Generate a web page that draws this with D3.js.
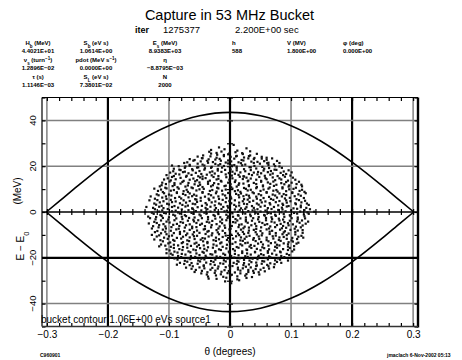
<!DOCTYPE html>
<html>
<head>
<meta charset="utf-8">
<script src="https://cdn.jsdelivr.net/npm/d3@7"></script>
<style>
body { margin: 0; background: #fff; }
svg { display: block; font-family: "Liberation Sans", Arial, sans-serif; }
</style>
</head>
<body>
<div id="chart"></div>
<script>
// grid / tick values
const thetaTicks = [-0.3, -0.2, -0.1, 0, 0.1, 0.2, 0.3];
const heavyTheta = [-0.2, 0, 0.2];
const energyTicks = [-40, -20, 0, 20, 40];
const heavyEnergy = [-20];

// bucket separatrix
const contourTheta = [-0.301, -0.28, -0.25, -0.2, -0.15, -0.1, -0.05, 0, 0.05, 0.1, 0.15, 0.2, 0.25, 0.28, 0.301];
const contourUpper = [0, 4.6, 11.3, 21.8, 30.8, 37.7, 42.0, 43.5, 42.0, 37.7, 30.8, 21.8, 11.3, 4.6, 0];
const contourLower = [0, -4.6, -11.3, -21.8, -30.8, -37.7, -42.0, -43.5, -42.0, -37.7, -30.8, -21.8, -11.3, -4.6, 0];

// header text
const paramLabels = [
    ["H_b (MeV)", "S_b (eV s)", "E_s (MeV)"],
    ["ν_s (turn^{−1})", "pdot (MeV s^{−1})", "η"],
    ["τ (s)", "S_L (eV s)", "N"]
];
const paramValues = [
    ["4.4021E+01", "1.0614E+00", "8.9383E+03"],
    ["1.2896E−02", "0.0000E+00", "−8.8795E−03"],
    ["1.1146E−03", "7.3801E−02", "2000"]
];
const rfLabels = ["h", "V (MV)", "φ (deg)"];
const rfValues = ["588", "1.800E+00", "0.000E+00"];

// macro-particles: [theta (deg), E - E0 (MeV)]
const particles = [
[.006,29.3],
[-.018,28.2],[.027,27.8],
[-.009,27.4],[.012,26.8],[-.031,27.1],
[-.034,26.3],[-.022,25.8],[-.014,26.4],[-.001,25.6],[.009,26.1],[.02,25.7],[.033,26.5],
[-.044,24.7],[-.031,25.5],[-.021,25.0],[-.01,24.9],[-.003,25.2],[.011,24.5],[.021,25.3],[.033,24.7],[.044,25.4],
[-.053,24.2],[-.046,23.5],[-.032,24.3],[-.022,23.7],[-.01,24.4],[.001,24.1],[.01,24.3],[.023,23.8],[.031,24.4],[.04,23.6],[.052,24.1],[.06,23.7],
[-.066,23.1],[-.058,22.7],[-.045,23.5],[-.035,23.0],[-.024,22.9],[-.017,23.2],[-.003,22.5],[.007,23.3],[.019,22.7],[.03,23.4],[.039,23.1],[.052,23.3],[.06,22.8],[.069,23.4],
[-.07,21.7],[-.06,22.4],[-.048,22.1],[-.037,22.3],[-.028,21.8],[-.015,22.4],[-.007,21.6],[.002,22.1],[.014,21.7],[.022,22.5],[.035,22.0],[.045,21.9],[.056,22.2],[.063,21.5],[.077,22.3],
[-.075,21.4],[-.066,20.6],[-.053,21.1],[-.045,20.7],[-.036,21.5],[-.024,21.0],[-.016,20.9],[-.003,21.2],[.007,20.5],[.018,21.3],[.025,20.7],[.039,21.4],[.049,21.1],[.061,21.3],[.072,20.8],[.081,21.4],
[-.084,20.0],[-.073,19.9],[-.066,20.2],[-.052,19.5],[-.042,20.3],[-.03,19.7],[-.019,20.4],[-.01,20.1],[.003,20.3],[.011,19.8],[.02,20.4],[.032,19.6],[.04,20.1],[.053,19.7],[.063,20.5],[.074,20.0],[.081,19.9],[-.095,20.3],
[-.083,18.5],[-.074,19.3],[-.062,18.7],[-.054,19.4],[-.041,19.1],[-.031,19.3],[-.02,18.8],[-.013,19.4],[.001,18.6],[.011,19.1],[.023,18.7],[.034,19.5],[.043,19.0],[.056,18.9],[.064,19.2],[.073,18.5],[.085,19.3],[-.092,18.9],
[-.093,17.8],[-.081,18.3],[-.074,17.6],[-.061,18.2],[-.05,17.9],[-.042,18.5],[-.029,17.7],[-.02,18.1],[-.008,18.4],[.004,17.6],[.011,18.2],[.025,17.8],[.034,18.3],[.046,17.5],[.055,18.1],[.067,17.9],[.076,18.4],[.088,17.7],[.096,18.2],
[-.098,17.2],[-.089,16.7],[-.077,17.4],[-.068,16.9],[-.056,17.1],[-.047,16.6],[-.033,17.3],[-.025,16.8],[-.014,17.5],[-.002,17.0],[.008,16.7],[.017,17.3],[.031,16.6],[.039,17.2],[.051,16.9],[.062,17.4],[.07,16.8],[.083,17.1],[.092,16.6],[.101,17.3],
[-.104,16.1],[-.092,15.7],[-.083,16.4],[-.071,15.8],[-.063,16.2],[-.052,15.6],[-.038,16.3],[-.03,16.0],[-.019,15.7],[-.007,16.4],[.003,15.9],[.014,16.2],[.022,15.6],[.036,16.1],[.045,16.4],[.057,15.8],[.066,16.3],[.078,15.7],[.087,16.1],[.099,15.9],[-.045,15.5],
[-.102,14.7],[-.095,15.3],[-.081,14.9],[-.072,15.4],[-.06,14.6],[-.049,15.1],[-.04,14.8],[-.027,15.3],[-.019,14.5],[-.006,15.2],[.004,14.7],[.016,15.4],[.027,15.0],[.034,14.6],[.048,15.3],[.058,14.8],[.07,15.1],[.081,14.7],[.09,15.4],[.103,15.0],[.023,15.5],
[-.108,14.2],[-.097,13.8],[-.089,14.3],[-.076,13.6],[-.066,14.1],[-.054,13.9],[-.045,14.4],[-.033,13.7],[-.022,14.2],[-.015,13.6],[-.001,14.1],[.009,13.8],[.021,14.4],[.03,13.7],[.043,14.1],[.051,13.6],[.06,14.3],[.074,13.9],[.084,14.2],[.095,13.7],[.107,14.1],
[-.111,12.8],[-.099,13.3],[-.091,12.6],[-.078,13.1],[-.068,12.7],[-.057,13.4],[-.05,12.9],[-.036,13.2],[-.026,12.6],[-.014,13.3],[-.003,12.8],[.008,13.1],[.015,12.5],[.029,13.4],[.039,12.7],[.051,13.2],[.062,12.9],[.071,13.3],[.084,12.6],[.092,13.1],[.101,12.8],[.113,13.2],
[-.112,11.7],[-.105,12.2],[-.091,11.8],[-.081,12.4],[-.069,11.6],[-.058,12.1],[-.049,11.9],[-.036,12.3],[-.028,11.7],[-.019,12.2],[-.007,11.5],[.001,12.1],[.014,11.8],[.022,12.4],[.031,11.7],[.043,12.2],[.054,11.6],[.066,12.3],[.076,11.9],[.089,12.1],[.097,11.6],[.109,12.2],[.117,11.9],
[-.115,11.2],[-.106,10.6],[-.094,11.3],[-.086,10.8],[-.073,11.1],[-.063,10.7],[-.052,11.4],[-.045,10.9],[-.031,11.2],[-.021,10.6],[-.009,11.3],[.002,10.8],[.011,11.1],[.023,10.5],[.031,11.3],[.044,10.9],[.054,11.2],[.065,10.7],[.072,11.4],[.086,10.8],[.096,11.1],[.108,10.6],[.118,11.2],
[-.113,9.8],[-.104,10.3],[-.092,9.6],[-.084,10.2],[-.071,9.7],[-.061,10.4],[-.05,9.9],[-.043,10.1],[-.029,9.6],[-.019,10.3],[-.007,9.8],[.004,10.2],[.013,9.5],[.026,10.1],[.034,9.7],[.043,10.4],[.055,9.8],[.063,10.2],[.076,9.6],[.086,10.3],[.097,9.9],[.104,10.1],[.118,9.7],[-.124,10.2],
[-.118,9.2],[-.11,8.7],[-.097,9.3],[-.087,8.6],[-.076,9.1],[-.069,8.8],[-.055,9.4],[-.045,8.7],[-.033,9.2],[-.022,8.9],[-.013,9.3],[0,8.6],[.008,9.1],[.017,8.8],[.029,9.4],[.037,8.6],[.05,9.2],[.06,8.7],[.071,9.3],[.078,8.9],[.092,9.1],[.102,8.6],[.114,9.2],[.122,8.8],
[-.12,7.7],[-.108,8.2],[-.1,7.6],[-.087,8.3],[-.077,7.9],[-.066,8.1],[-.059,7.6],[-.045,8.4],[-.035,7.8],[-.023,8.2],[-.012,7.7],[-.003,8.3],[.01,7.9],[.018,8.1],[.027,7.5],[.039,8.2],[.047,7.8],[.06,8.4],[.07,7.6],[.081,8.1],[.088,7.8],[.102,8.3],[.112,7.7],[.124,8.2],
[-.117,7.3],[-.105,6.8],[-.096,7.2],[-.083,6.6],[-.073,7.4],[-.062,6.9],[-.055,7.1],[-.041,6.7],[-.031,7.3],[-.019,6.8],[-.008,7.2],[.001,6.6],[.014,7.4],[.022,6.9],[.031,7.1],[.043,6.7],[.051,7.3],[.064,6.6],[.074,7.2],[.085,6.8],[.092,7.4],[.106,6.9],[.116,7.1],[-.13,6.8],
[-.123,5.8],[-.111,6.3],[-.104,5.7],[-.09,6.1],[-.08,5.9],[-.068,6.4],[-.057,5.6],[-.048,6.2],[-.035,5.8],[-.027,6.3],[-.018,5.7],[-.006,6.1],[.002,5.9],[.015,6.4],[.023,5.6],[.032,6.2],[.044,5.8],[.055,6.1],[.067,5.7],[.077,6.3],[.09,5.9],[.098,6.2],[.109,5.6],[.121,6.1],
[-.119,5.2],[-.109,4.7],[-.097,5.3],[-.089,4.6],[-.076,5.1],[-.066,4.8],[-.055,5.4],[-.048,4.9],[-.034,5.2],[-.024,4.6],[-.012,5.3],[-.001,4.8],[.008,5.1],[.021,4.7],[.029,5.4],[.038,4.9],[.05,5.2],[.058,4.6],[.071,5.3],[.081,4.8],[.092,5.1],[.099,4.7],[.113,5.2],[.123,4.9],[-.132,5.1],
[-.124,3.7],[-.115,4.2],[-.103,3.6],[-.095,4.3],[-.082,3.8],[-.072,4.1],[-.061,3.6],[-.054,4.4],[-.04,3.9],[-.03,4.2],[-.018,3.7],[-.007,4.3],[.002,3.8],[.015,4.1],[.023,3.6],[.032,4.4],[.044,3.7],[.052,4.2],[.065,3.9],[.075,4.3],[.086,3.6],[.093,4.1],[.107,3.8],[.117,4.2],[.126,3.7],
[-.121,3.2],[-.112,2.7],[-.1,3.3],[-.091,2.6],[-.078,3.1],[-.069,2.8],[-.057,3.4],[-.046,2.7],[-.038,3.2],[-.025,2.9],[-.015,3.3],[-.004,2.6],[.007,3.1],[.015,2.8],[.028,3.4],[.036,2.6],[.047,3.2],[.057,2.7],[.066,3.3],[.079,2.9],[.087,3.1],[.096,2.6],[.108,3.4],[.116,2.8],[.129,3.1],
[-.126,1.8],[-.116,2.3],[-.109,1.7],[-.095,2.2],[-.085,1.9],[-.073,2.4],[-.062,1.6],[-.053,2.1],[-.04,1.8],[-.032,2.3],[-.023,1.7],[-.011,2.2],[-.003,1.9],[.01,2.4],[.018,1.6],[.027,2.1],[.039,1.8],[.05,2.3],[.062,1.7],[.072,2.2],[.085,1.9],[.093,2.4],[.104,1.6],[.116,2.1],[.125,1.8],[-.137,2.2],
[-.123,1.2],[-.111,0.7],[-.102,1.3],[-.089,0.6],[-.079,1.1],[-.068,0.8],[-.061,1.4],[-.047,0.7],[-.037,1.2],[-.025,0.9],[-.014,1.3],[-.005,0.6],[.008,1.1],[.016,0.8],[.025,1.4],[.037,0.7],[.045,1.2],[.058,0.6],[.068,1.3],[.079,0.9],[.086,1.1],[.1,0.7],[.11,1.4],[.122,0.8],[.131,1.2],
[-.128,-0.3],[-.116,0.2],[-.108,-0.4],[-.095,0.3],[-.085,-0.2],[-.074,0.1],[-.063,-0.4],[-.056,0.4],[-.042,-0.3],[-.032,0.2],[-.02,-0.1],[-.009,0.3],[0,-0.4],[.013,0.1],[.021,-0.2],[.03,0.4],[.042,-0.3],[.05,0.2],[.063,-0.4],[.073,0.1],[.084,-0.1],[.091,0.3],[.105,-0.4],[.115,0.2],[.127,-0.2],[-.139,0.0],[.138,0.1],
[-.125,-0.8],[-.114,-1.3],[-.105,-0.6],[-.093,-1.2],[-.082,-0.7],[-.074,-1.4],[-.06,-0.8],[-.05,-1.1],[-.038,-0.6],[-.027,-1.3],[-.019,-0.9],[-.006,-1.2],[.004,-0.6],[.013,-1.4],[.025,-0.7],[.033,-1.1],[.046,-0.8],[.056,-1.3],[.067,-0.6],[.074,-1.2],[.088,-0.9],[.098,-1.4],[.11,-0.7],[.121,-1.1],[.129,-0.8],
[-.121,-2.2],[-.112,-1.7],[-.1,-2.3],[-.09,-1.6],[-.079,-2.1],[-.072,-1.8],[-.058,-2.4],[-.048,-1.6],[-.036,-2.2],[-.025,-1.7],[-.016,-2.3],[-.003,-1.9],[.005,-2.1],[.014,-1.6],[.026,-2.4],[.034,-1.8],[.047,-2.2],[.057,-1.6],[.068,-2.3],[.075,-1.7],[.089,-2.1],[.099,-1.8],[.111,-2.4],[.122,-1.9],[-.134,-2.0],
[-.131,-2.7],[-.122,-3.2],[-.11,-2.6],[-.101,-3.3],[-.088,-2.8],[-.078,-3.1],[-.067,-2.6],[-.06,-3.4],[-.046,-2.7],[-.036,-3.2],[-.024,-2.9],[-.013,-3.3],[-.004,-2.6],[.009,-3.1],[.017,-2.8],[.026,-3.4],[.038,-2.7],[.046,-3.2],[.059,-2.6],[.069,-3.1],[.08,-2.9],[.087,-3.3],[.101,-2.7],[.111,-3.2],[.123,-2.8],
[-.124,-4.3],[-.113,-3.7],[-.104,-4.2],[-.091,-3.6],[-.081,-4.4],[-.069,-3.8],[-.059,-4.1],[-.052,-3.6],[-.038,-4.3],[-.029,-3.9],[-.016,-4.2],[-.006,-3.6],[.005,-4.4],[.012,-3.7],[.026,-4.1],[.036,-3.8],[.048,-4.3],[.059,-3.6],[.068,-4.2],[.081,-3.7],[.089,-4.4],[.098,-3.8],[.11,-4.1],[.118,-3.7],[.128,-4.2],
[-.12,-4.8],[-.109,-5.3],[-.099,-4.6],[-.087,-5.2],[-.077,-4.7],[-.066,-5.4],[-.055,-4.8],[-.046,-5.1],[-.034,-4.6],[-.022,-5.3],[-.013,-4.9],[0,-5.2],[.009,-4.6],[.019,-5.4],[.029,-4.7],[.041,-5.1],[.053,-4.8],[.061,-5.3],[.073,-4.6],[.083,-5.2],[.095,-4.9],[.103,-5.4],[.114,-4.7],[.124,-5.1],[-.133,-5.0],
[-.126,-6.2],[-.116,-5.7],[-.106,-6.3],[-.093,-5.6],[-.083,-6.1],[-.072,-5.8],[-.062,-6.4],[-.049,-5.6],[-.041,-6.2],[-.03,-5.7],[-.017,-6.3],[-.009,-5.9],[.003,-6.1],[.015,-5.6],[.024,-6.4],[.035,-5.8],[.043,-6.2],[.057,-5.6],[.066,-6.3],[.077,-5.7],[.087,-6.1],[.096,-5.8],[.108,-6.4],[.119,-5.9],
[-.117,-6.7],[-.105,-7.2],[-.096,-6.6],[-.084,-7.3],[-.074,-6.8],[-.062,-7.1],[-.055,-6.6],[-.041,-7.4],[-.031,-6.7],[-.019,-7.2],[-.008,-6.9],[.001,-7.3],[.014,-6.6],[.022,-7.1],[.031,-6.8],[.043,-7.4],[.051,-6.7],[.064,-7.2],[.074,-6.6],[.085,-7.1],[.092,-6.9],[.106,-7.3],[.116,-6.7],[-.128,-7.2],
[-.119,-8.3],[-.11,-7.7],[-.097,-8.2],[-.088,-7.6],[-.075,-8.4],[-.066,-7.8],[-.054,-8.1],[-.043,-7.6],[-.035,-8.3],[-.022,-7.9],[-.012,-8.2],[-.001,-7.6],[.01,-8.4],[.018,-7.7],[.031,-8.1],[.039,-7.8],[.05,-8.3],[.06,-7.6],[.069,-8.2],[.082,-7.7],[.09,-8.4],[.099,-7.8],[.111,-8.1],[.119,-7.9],
[-.123,-8.8],[-.113,-9.3],[-.106,-8.6],[-.092,-9.2],[-.082,-8.7],[-.07,-9.4],[-.059,-8.8],[-.05,-9.1],[-.037,-8.6],[-.029,-9.3],[-.02,-8.9],[-.008,-9.2],[0,-8.6],[.013,-9.4],[.021,-8.7],[.03,-9.1],[.042,-8.8],[.053,-9.3],[.065,-8.6],[.075,-9.2],[.088,-8.9],[.096,-9.4],[.107,-8.7],[.119,-9.1],
[-.116,-10.2],[-.104,-9.7],[-.095,-10.3],[-.082,-9.6],[-.072,-10.1],[-.061,-9.8],[-.054,-10.4],[-.04,-9.6],[-.03,-10.2],[-.018,-9.7],[-.007,-10.3],[.002,-9.9],[.015,-10.1],[.023,-9.6],[.032,-10.4],[.044,-9.8],[.052,-10.2],[.065,-9.6],[.075,-10.3],[.086,-9.7],[.093,-10.1],[.107,-9.8],[.117,-10.4],[-.128,-10.0],
[-.12,-10.7],[-.108,-11.2],[-.1,-10.6],[-.087,-11.3],[-.077,-10.8],[-.066,-11.1],[-.059,-10.6],[-.045,-11.4],[-.035,-10.7],[-.023,-11.2],[-.012,-10.9],[-.003,-11.3],[.01,-10.6],[.018,-11.1],[.027,-10.8],[.039,-11.4],[.047,-10.7],[.06,-11.2],[.07,-10.6],[.081,-11.1],[.088,-10.9],[.102,-11.3],[.112,-10.8],[.12,-11.2],
[-.114,-12.3],[-.102,-11.7],[-.093,-12.2],[-.08,-11.6],[-.07,-12.4],[-.058,-11.8],[-.048,-12.1],[-.041,-11.6],[-.027,-12.3],[-.018,-11.9],[-.005,-12.2],[.005,-11.6],[.017,-12.4],[.024,-11.7],[.038,-12.1],[.048,-11.8],[.06,-12.3],[.071,-11.6],[.08,-12.2],[.093,-11.7],[.101,-12.4],[.11,-11.8],[-.124,-12.0],
[-.11,-12.8],[-.098,-13.3],[-.091,-12.6],[-.077,-13.2],[-.067,-12.7],[-.055,-13.4],[-.044,-12.8],[-.037,-13.1],[-.023,-12.6],[-.014,-13.3],[-.001,-12.9],[.009,-13.2],[.021,-12.6],[.029,-13.4],[.042,-12.7],[.051,-13.1],[.063,-12.8],[.074,-13.3],[.083,-12.6],[.096,-13.2],[.103,-12.9],[.112,-13.4],
[-.113,-14.2],[-.101,-13.7],[-.092,-14.3],[-.079,-13.6],[-.07,-14.1],[-.058,-13.8],[-.051,-14.4],[-.037,-13.6],[-.027,-14.2],[-.016,-13.7],[-.005,-14.3],[.004,-13.9],[.017,-14.1],[.025,-13.6],[.034,-14.4],[.046,-13.8],[.054,-14.2],[.067,-13.6],[.077,-14.3],[.088,-13.7],[.095,-14.1],[.109,-13.8],
[-.106,-14.7],[-.097,-15.2],[-.085,-14.6],[-.077,-15.3],[-.064,-14.8],[-.054,-15.1],[-.043,-14.6],[-.036,-15.4],[-.022,-14.7],[-.012,-15.2],[0,-14.9],[.011,-15.3],[.02,-14.6],[.032,-15.1],[.04,-14.8],[.053,-15.4],[.063,-14.7],[.074,-15.2],[.081,-14.6],[.095,-15.1],[.105,-14.9],[-.116,-15.0],
[-.104,-16.3],[-.092,-15.7],[-.083,-16.2],[-.07,-15.6],[-.06,-16.4],[-.049,-15.8],[-.042,-16.1],[-.028,-15.6],[-.018,-16.3],[-.006,-15.9],[.005,-16.2],[.014,-15.6],[.027,-16.4],[.035,-15.7],[.044,-16.1],[.056,-15.8],[.064,-16.3],[.077,-15.6],[.087,-16.2],[.098,-15.7],[.105,-16.4],
[-.099,-16.8],[-.091,-17.3],[-.078,-16.6],[-.068,-17.2],[-.056,-16.7],[-.045,-17.4],[-.038,-16.8],[-.024,-17.1],[-.015,-16.6],[-.002,-17.3],[.008,-16.9],[.02,-17.2],[.028,-16.6],[.041,-17.4],[.05,-16.7],[.062,-17.1],[.073,-16.8],[.082,-17.3],[.095,-16.6],[.102,-17.2],
[-.097,-18.2],[-.086,-17.7],[-.079,-18.3],[-.065,-17.6],[-.055,-18.1],[-.043,-17.8],[-.032,-18.4],[-.024,-17.6],[-.011,-18.2],[-.001,-17.7],[.008,-18.3],[.02,-17.9],[.028,-18.1],[.041,-17.6],[.051,-18.4],[.062,-17.8],[.069,-18.2],[.083,-17.6],[.093,-18.3],[-.104,-18.0],
[-.094,-18.7],[-.085,-19.2],[-.073,-18.6],[-.064,-19.3],[-.05,-18.8],[-.04,-19.1],[-.029,-18.6],[-.022,-19.4],[-.008,-18.7],[.002,-19.2],[.014,-18.9],[.025,-19.3],[.034,-18.6],[.047,-19.1],[.055,-18.8],[.064,-19.4],[.076,-18.7],[.084,-19.2],[.097,-18.8],
[-.091,-20.3],[-.08,-19.7],[-.068,-20.2],[-.057,-19.6],[-.047,-20.4],[-.039,-19.8],[-.026,-20.1],[-.016,-19.6],[-.004,-20.3],[.007,-19.9],[.016,-20.2],[.029,-19.6],[.037,-20.4],[.046,-19.7],[.058,-20.1],[.066,-19.8],[.079,-20.3],[.089,-19.7],[-.099,-20.0],
[-.086,-20.8],[-.074,-21.3],[-.065,-20.6],[-.052,-21.2],[-.042,-20.7],[-.031,-21.4],[-.024,-20.8],[-.01,-21.1],[0,-20.6],[.012,-21.3],[.023,-20.9],[.032,-21.2],[.045,-20.6],[.053,-21.4],[.062,-20.7],[.074,-21.1],[.082,-20.8],[.095,-21.2],
[-.082,-22.2],[-.07,-21.7],[-.063,-22.3],[-.049,-21.6],[-.039,-22.1],[-.027,-21.8],[-.016,-22.4],[-.007,-21.6],[.006,-22.2],[.014,-21.7],[.023,-22.3],[.035,-21.9],[.043,-22.1],[.056,-21.6],[.066,-22.4],[.077,-21.8],[.084,-22.2],
[-.075,-22.7],[-.066,-23.2],[-.053,-22.6],[-.043,-23.3],[-.032,-22.8],[-.025,-23.1],[-.011,-22.6],[-.001,-23.4],[.011,-22.7],[.022,-23.2],[.031,-22.9],[.044,-23.3],[.052,-22.6],[.061,-23.1],[.073,-22.8],[-.087,-23.0],
[-.072,-24.3],[-.061,-23.7],[-.05,-24.2],[-.043,-23.6],[-.029,-24.4],[-.019,-23.8],[-.007,-24.1],[.004,-23.6],[.013,-24.3],[.026,-23.9],[.034,-24.2],[.043,-23.6],[.055,-24.4],[.063,-23.7],[.072,-24.1],
[-.063,-24.8],[-.056,-25.3],[-.042,-24.6],[-.032,-25.2],[-.02,-24.7],[-.009,-25.4],[0,-24.8],[.013,-25.1],[.021,-24.6],[.03,-25.3],[.042,-24.9],[.05,-25.2],[.064,-24.7],
[-.058,-26.2],[-.046,-25.7],[-.037,-26.3],[-.024,-25.6],[-.014,-26.1],[-.002,-25.8],[.008,-26.4],[.017,-25.6],[.03,-26.2],[.038,-25.7],[.047,-26.3],[.057,-25.9],
[-.047,-26.8],[-.038,-27.3],[-.025,-26.6],[-.015,-27.2],[-.004,-26.7],[.003,-27.4],[.017,-26.8],[.027,-27.1],[.039,-26.6],[.048,-27.3],
[-.036,-28.2],[-.023,-27.7],[-.011,-28.3],[.001,-27.6],[.012,-28.1],[.025,-27.8],[.036,-28.4],
[-.022,-29.2],[-.006,-28.7],[.012,-29.4],[.027,-28.8],[-.035,-29.1],
[-.008,-30.3],[.015,-29.8],
[.002,-31.1]
];

const W = 462, H = 360;
const frameL = 42, frameR = 418, frameT = 97.5, frameB = 326.5;

const svg = d3.select("#chart").append("svg")
    .attr("width", W)
    .attr("height", H);

const x = d3.scaleLinear().domain([-0.308, 0.308]).range([frameL, frameR]);
const y = d3.scaleLinear().domain([-50, 50]).range([frameB, frameT]);

// text with _x subscripts and ^{..} superscripts
function rich(sel, str) {
    const re = /_(.)|\^\{([^}]*)\}|([^_^]+)/g;
    let m;
    while ((m = re.exec(str))) {
        if (m[1]) sel.append("tspan").attr("baseline-shift", "sub").attr("font-size", "75%").text(m[1]);
        else if (m[2]) sel.append("tspan").attr("baseline-shift", "super").attr("font-size", "75%").text(m[2]);
        else sel.append("tspan").text(m[3]);
    }
}

// header
svg.append("text")
    .attr("x", 229.5).attr("y", 20)
    .attr("text-anchor", "middle")
    .attr("font-size", 14.5)
    .text("Capture in 53 MHz Bucket");
svg.append("text").attr("x", 135).attr("y", 33).attr("font-size", 9).attr("font-weight", "bold").text("iter");
svg.append("text").attr("x", 163).attr("y", 33).attr("font-size", 9.5).text("1275377");
svg.append("text").attr("x", 235).attr("y", 33).attr("font-size", 9.5).text("2.200E+00 sec");

const colX = [38, 96, 165];
const rowY = [45, 62, 79];
paramLabels.forEach((row, i) => {
    row.forEach((lab, j) => {
        const t = svg.append("text")
            .attr("x", colX[j]).attr("y", rowY[i])
            .attr("text-anchor", "middle")
            .attr("font-size", 6).attr("font-weight", "bold");
        rich(t, lab);
        svg.append("text")
            .attr("x", colX[j]).attr("y", rowY[i] + 8)
            .attr("text-anchor", "middle")
            .attr("font-size", 6).attr("font-weight", "bold")
            .text(paramValues[i][j]);
    });
});
const rfX = [232, 287, 343];
rfLabels.forEach((lab, j) => {
    svg.append("text").attr("x", rfX[j]).attr("y", 45)
        .attr("font-size", 6).attr("font-weight", "bold").text(lab);
    svg.append("text").attr("x", rfX[j]).attr("y", 53)
        .attr("font-size", 6).attr("font-weight", "bold").text(rfValues[j]);
});

// grid
svg.append("g").selectAll("line")
    .data(thetaTicks)
    .join("line")
    .attr("x1", d => x(d)).attr("x2", d => x(d))
    .attr("y1", frameT).attr("y2", frameB)
    .attr("stroke", d => heavyTheta.includes(d) ? "#000" : "#808080")
    .attr("stroke-width", d => heavyTheta.includes(d) ? 2.2 : 1.5);
svg.append("g").selectAll("line")
    .data(energyTicks)
    .join("line")
    .attr("x1", frameL).attr("x2", frameR)
    .attr("y1", d => y(d)).attr("y2", d => y(d))
    .attr("stroke", d => heavyEnergy.includes(d) || d === 0 ? "#000" : "#808080")
    .attr("stroke-width", d => heavyEnergy.includes(d) ? 2.2 : (d === 0 ? 1.3 : 1.5));

// particles
svg.append("g").selectAll("rect")
    .data(particles)
    .join("rect")
    .attr("x", d => x(d[0]) - 1.1)
    .attr("y", d => y(d[1]) - 1.1)
    .attr("width", 2.2)
    .attr("height", 2.2)
    .attr("fill", "#111");

// separatrix
const line = d3.line()
    .x(d => x(d[0]))
    .y(d => y(d[1]))
    .curve(d3.curveMonotoneX);
[contourUpper, contourLower].forEach(vals => {
    svg.append("path")
        .datum(contourTheta.map((t, i) => [t, vals[i]]))
        .attr("fill", "none")
        .attr("stroke", "#000")
        .attr("stroke-width", 1.6)
        .attr("d", line);
});

// minor ticks
const thetaMinor = d3.range(-0.3, 0.3001, 0.02);
const energyMinor = d3.range(-50, 50.1, 10);
function ticks(axis, tx, ty) {
    svg.append("g")
        .attr("transform", `translate(${tx},${ty})`)
        .call(axis.tickFormat("").tickSizeOuter(0))
        .call(g => g.select(".domain").remove())
        .call(g => g.selectAll("line").attr("stroke", "#000").attr("stroke-width", 1.2));
}
ticks(d3.axisBottom(x).tickValues(thetaMinor).tickSizeInner(3.5), 0, frameT);
ticks(d3.axisTop(x).tickValues(thetaMinor).tickSizeInner(3.5), 0, frameB);
ticks(d3.axisBottom(x).tickValues(thetaMinor).tickSizeInner(3), 0, y(0));
ticks(d3.axisTop(x).tickValues(thetaMinor).tickSizeInner(3), 0, y(0));
ticks(d3.axisRight(y).tickValues(energyMinor).tickSizeInner(3.5), frameL, 0);
ticks(d3.axisLeft(y).tickValues(energyMinor).tickSizeInner(3.5), frameR, 0);
ticks(d3.axisRight(y).tickValues(energyMinor).tickSizeInner(3), x(0), 0);
ticks(d3.axisLeft(y).tickValues(energyMinor).tickSizeInner(3), x(0), 0);

// frame
svg.append("line").attr("x1", frameL).attr("x2", frameL).attr("y1", frameT).attr("y2", frameB).attr("stroke", "#000").attr("stroke-width", 1.2);
svg.append("line").attr("x1", frameL).attr("x2", frameR).attr("y1", frameT).attr("y2", frameT).attr("stroke", "#000").attr("stroke-width", 1.2);
svg.append("line").attr("x1", frameR).attr("x2", frameR).attr("y1", frameT).attr("y2", frameB + 1).attr("stroke", "#000").attr("stroke-width", 2.4);
svg.append("line").attr("x1", frameL).attr("x2", frameR).attr("y1", frameB).attr("y2", frameB).attr("stroke", "#333").attr("stroke-width", 1.6);

// x labels
svg.append("g")
    .attr("transform", `translate(0,${frameB})`)
    .call(d3.axisBottom(x).tickValues(thetaTicks).tickSize(0).tickPadding(4.5)
        .tickFormat(d => d === 0 ? "0" : d3.format(".1f")(d)))
    .call(g => g.select(".domain").remove())
    .call(g => g.selectAll("text").attr("font-size", 10).attr("fill", "#000"));
svg.selectAll(".tick text").attr("font-family", null);

svg.append("text")
    .attr("x", 230).attr("y", 355)
    .attr("text-anchor", "middle")
    .attr("font-size", 10)
    .text("θ (degrees)");

// y labels, rotated
svg.append("g").selectAll("text")
    .data(energyTicks)
    .join("text")
    .attr("transform", d => `translate(36,${y(d)}) rotate(-90)`)
    .attr("text-anchor", "middle")
    .attr("font-size", 9.5)
    .text(d => d3.format("d")(d));

const yt1 = svg.append("text")
    .attr("transform", "translate(24,246) rotate(-90)")
    .attr("text-anchor", "middle")
    .attr("font-size", 10);
rich(yt1, "E − E_0");
svg.append("text")
    .attr("transform", "translate(21,191) rotate(-90)")
    .attr("text-anchor", "middle")
    .attr("font-size", 10)
    .text("(MeV)");

// contour caption and footer
svg.append("text")
    .attr("x", 41).attr("y", 322.5)
    .attr("font-size", 10)
    .text("bucket contour 1.06E+00 eVs source1");
svg.append("text").attr("x", 40).attr("y", 357).attr("font-size", 5).attr("font-weight", "bold").text("C960901");
svg.append("text").attr("x", 387).attr("y", 357).attr("font-size", 5).attr("font-weight", "bold").text("jmaclach  6-Nov-2002 05:13");
</script>
</body>
</html>
